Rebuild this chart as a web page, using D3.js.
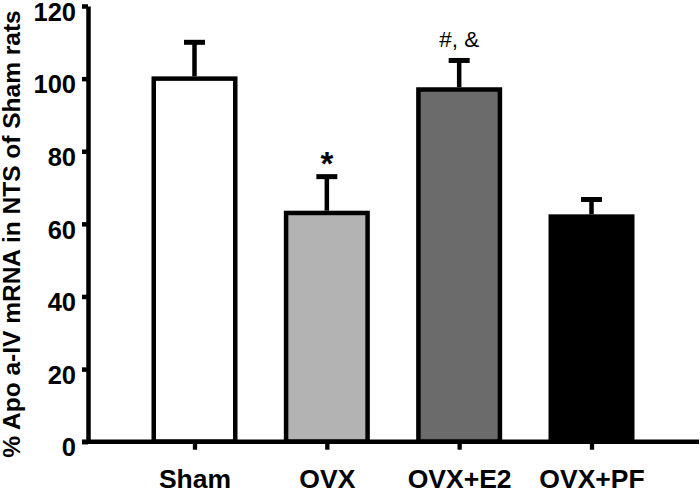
<!DOCTYPE html>
<html>
<head>
<meta charset="utf-8">
<script src="https://cdn.jsdelivr.net/npm/d3@7"></script>
<style>
  body { margin: 0; background: #fff; }
  svg { display: block; font-family: 'Liberation Sans', Arial, sans-serif; }
</style>
</head>
<body>
<svg width="700" height="489"></svg>
<script>
const groups = ['Sham', 'OVX', 'OVX+E2', 'OVX+PF'];
const means = [100, 63, 97, 62];
const errors = [10, 10, 8, 4.7];
const marks = ['', '*', '#, &', ''];
const fills = ['#ffffff', '#b3b3b3', '#6b6b6b', '#000000'];
const yTicks = [0, 20, 40, 60, 80, 100, 120];

const svg = d3.select('svg');
const width = +svg.attr('width');

const y = d3.scaleLinear().domain([0, 120]).range([441.7, 6]);
const x = d3.scalePoint().domain(groups).range([194.5, 591.5]);
const barWidth = 81.5;
const lw = 4.5;

// bars
svg.selectAll('rect.bar')
  .data(groups)
  .enter()
  .append('rect')
  .attr('class', 'bar')
  .attr('x', (d) => x(d) - barWidth / 2)
  .attr('y', (d, i) => y(means[i]))
  .attr('width', barWidth)
  .attr('height', (d, i) => y(0) - y(means[i]))
  .attr('fill', (d, i) => fills[i])
  .attr('stroke', '#000')
  .attr('stroke-width', lw);

// error bars (upper only)
const err = svg.selectAll('g.err')
  .data(groups)
  .enter()
  .append('g')
  .attr('class', 'err');

err.append('line')
  .attr('x1', (d) => x(d))
  .attr('x2', (d) => x(d))
  .attr('y1', (d, i) => y(means[i]) - lw / 2)
  .attr('y2', (d, i) => y(means[i] + errors[i]))
  .attr('stroke', '#000')
  .attr('stroke-width', lw);

err.append('line')
  .attr('x1', (d) => x(d) - 10.5)
  .attr('x2', (d) => x(d) + 10.5)
  .attr('y1', (d, i) => y(means[i] + errors[i]))
  .attr('y2', (d, i) => y(means[i] + errors[i]))
  .attr('stroke', '#000')
  .attr('stroke-width', 5);

// significance marks
svg.selectAll('text.mark')
  .data(groups)
  .enter()
  .append('text')
  .attr('class', 'mark')
  .attr('x', (d) => x(d))
  .attr('y', (d, i) => y(means[i] + errors[i]) - (marks[i] === '*' ? 2 : 13))
  .attr('text-anchor', 'middle')
  .attr('font-size', (d, i) => marks[i] === '*' ? 33 : 22.5)
  .attr('font-weight', (d, i) => marks[i] === '*' ? 'bold' : 'normal')
  .text((d, i) => marks[i]);

// y axis
const yAxis = svg.append('g')
  .attr('transform', 'translate(88,0)')
  .call(d3.axisLeft(y).tickValues(yTicks).tickSize(6).tickSizeOuter(0).tickPadding(6));
yAxis.select('.domain').attr('stroke-width', lw);
yAxis.selectAll('.tick line').attr('stroke-width', lw);
yAxis.selectAll('.tick text')
  .attr('font-size', 25.5)
  .attr('font-weight', 'bold')
  .attr('font-family', 'Liberation Sans, Arial, sans-serif')
  .attr('fill', '#000')
  .attr('dy', '0.56em');

// x axis
const xAxis = svg.append('g')
  .attr('transform', `translate(0,${y(0)})`)
  .call(d3.axisBottom(x).tickSize(8).tickPadding(19));
xAxis.select('.domain').remove();
xAxis.append('line')
  .attr('x1', 82)
  .attr('x2', width - 1)
  .attr('stroke', '#000')
  .attr('stroke-width', lw);
xAxis.selectAll('.tick line').attr('stroke-width', 4.3);
xAxis.selectAll('.tick text')
  .attr('font-size', 26.5)
  .attr('font-weight', 'bold')
  .attr('font-family', 'Liberation Sans, Arial, sans-serif')
  .attr('fill', '#000');

// y label
svg.append('text')
  .attr('transform', 'translate(19.5,234) rotate(-90)')
  .attr('text-anchor', 'middle')
  .attr('font-size', 24.5)
  .attr('font-weight', 'bold')
  .text('% Apo a-IV mRNA in NTS of Sham rats');
</script>
</body>
</html>
